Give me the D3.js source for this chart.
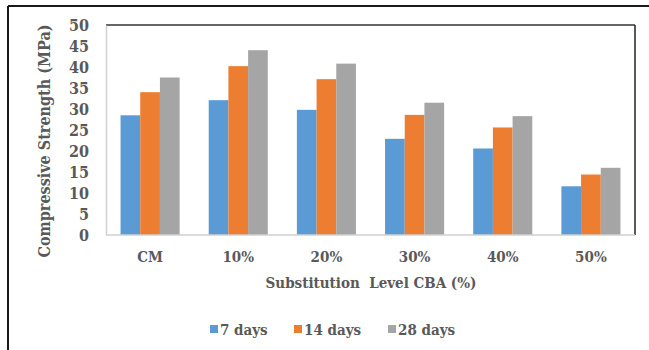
<!DOCTYPE html>
<html>
<head>
<meta charset="utf-8">
<script src="https://cdn.jsdelivr.net/npm/d3@7"></script>
<style>
  html, body { margin: 0; padding: 0; background: #fff; }
  svg { display: block; }
</style>
</head>
<body>
<svg id="chart" width="649" height="350"></svg>
<script>
// Compressive strength by CBA substitution level and curing age
const categories = ["CM", "10%", "20%", "30%", "40%", "50%"];
const seriesNames = ["7 days", "14 days", "28 days"];
const days7  = [28.5, 32.1, 29.8, 22.9, 20.6, 11.6];
const days14 = [34.0, 40.2, 37.1, 28.6, 25.6, 14.4];
const days28 = [37.5, 44.0, 40.8, 31.5, 28.3, 16.0];
const yTicks = [0, 5, 10, 15, 20, 25, 30, 35, 40, 45, 50];
const colors = ["#5B9BD5", "#ED7D31", "#A5A5A5"];

const series = [days7, days14, days28];
const FONT = "'DejaVu Serif Condensed', 'DejaVu Serif', serif";
const TEXT_COLOR = "#595959";

const svg = d3.select("#chart");
const plot = { left: 106, right: 635, top: 25, bottom: 235 };

// outer frame (top and left edges)
svg.append("line").attr("x1", 8).attr("x2", 649).attr("y1", 6).attr("y2", 6)
  .attr("stroke", "#1a1a1a").attr("stroke-width", 2);
svg.append("line").attr("x1", 8).attr("x2", 8).attr("y1", 6).attr("y2", 350)
  .attr("stroke", "#1a1a1a").attr("stroke-width", 2);

const x0 = d3.scaleBand().domain(categories).range([plot.left, plot.right]).paddingInner(0.33).paddingOuter(0.165);
const x1 = d3.scaleBand().domain(seriesNames).range([0, x0.bandwidth()]);
const y = d3.scaleLinear().domain([0, 50]).range([plot.bottom, plot.top]);

// plot box: dark top/right edges, light axis lines on left/bottom
svg.append("line").attr("x1", plot.left).attr("x2", plot.right).attr("y1", plot.top).attr("y2", plot.top)
  .attr("stroke", "#333").attr("stroke-width", 1.5);
svg.append("line").attr("x1", plot.right).attr("x2", plot.right).attr("y1", plot.top).attr("y2", plot.bottom)
  .attr("stroke", "#222").attr("stroke-width", 1.5);

// bars
const groups = svg.append("g").selectAll("g")
  .data(categories)
  .join("g")
  .attr("transform", d => `translate(${x0(d)},0)`);

groups.selectAll("rect")
  .data((d, i) => series.map((s, j) => ({ name: seriesNames[j], value: s[i], color: colors[j] })))
  .join("rect")
  .attr("x", d => x1(d.name))
  .attr("width", x1.bandwidth())
  .attr("y", d => y(d.value))
  .attr("height", d => y(0) - y(d.value))
  .attr("fill", d => d.color);

function styleText(sel, size) {
  sel.attr("font-family", null)
    .style("font-family", FONT)
    .style("font-weight", "bold")
    .style("font-size", size + "px")
    .style("fill", TEXT_COLOR);
}

// y axis
const yAxis = d3.axisLeft(y).tickValues(yTicks).tickSize(0).tickPadding(17);
const gy = svg.append("g").attr("transform", `translate(${plot.left},0)`).call(yAxis);
gy.attr("font-family", null);
gy.select(".domain").attr("stroke", "#d0d0d0").attr("stroke-width", 1.5);
styleText(gy.selectAll("text"), 16);

// x axis
const xAxis = d3.axisBottom(x0).tickSize(0).tickPadding(16);
const gx = svg.append("g").attr("transform", `translate(0,${plot.bottom})`).call(xAxis);
gx.attr("font-family", null);
gx.select(".domain").attr("stroke", "#d0d0d0").attr("stroke-width", 1.5)
  .attr("d", `M${plot.left},0H${plot.right}`);
styleText(gx.selectAll("text"), 15);

// axis titles
styleText(svg.append("text")
  .attr("transform", "translate(50,141) rotate(-90)")
  .attr("text-anchor", "middle")
  .text("Compressive Strength (MPa)"), 16);

styleText(svg.append("text")
  .attr("x", 371).attr("y", 288)
  .attr("text-anchor", "middle")
  .style("white-space", "pre")
  .text("Substitution  Level CBA (%)"), 15);

// legend
const legendX = [210, 294, 388];
const legend = svg.append("g").selectAll("g")
  .data(seriesNames)
  .join("g")
  .attr("transform", (d, i) => `translate(${legendX[i]},330)`);
legend.append("rect").attr("x", 0).attr("y", -5).attr("width", 8).attr("height", 8)
  .attr("fill", (d, i) => colors[i]);
styleText(legend.append("text").attr("x", 10).attr("y", 5).text(d => d), 15);
</script>
</body>
</html>
